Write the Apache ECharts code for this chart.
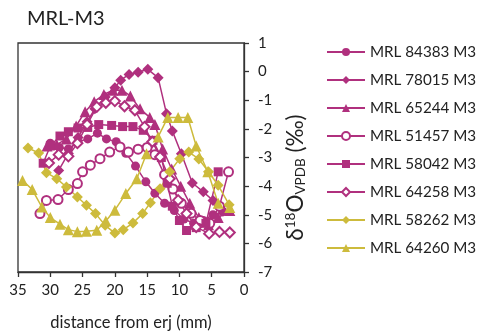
<!DOCTYPE html>
<html><head><meta charset="utf-8">
<script src="https://cdn.jsdelivr.net/npm/echarts@6/dist/echarts.min.js"></script>
<style>html,body{margin:0;padding:0;background:#fff}#c{width:478px;height:331px}</style>
</head><body><div id="c"></div>
<script>
const seriesNames = ['MRL 84383 M3','MRL 78015 M3','MRL 65244 M3','MRL 51457 M3','MRL 58042 M3','MRL 64258 M3','MRL 58262 M3','MRL 64260 M3'];
const s84383 = [[30.0,-2.5],[28.6,-2.65],[27.2,-2.7],[25.7,-2.45],[24.2,-2.35],[22.7,-2.15],[21.3,-2.35],[19.8,-2.45],[18.3,-2.85],[16.8,-3.3],[15.2,-3.85],[13.8,-4.25],[12.3,-4.6],[10.8,-4.85],[9.3,-5.15],[7.8,-5.3],[6.3,-5.2],[4.8,-5.0],[3.3,-4.9]];
const s78015 = [[28.7,-3.45],[27.2,-2.86],[25.7,-2.3],[24.3,-1.75],[23.1,-1.3],[21.5,-0.89],[20.0,-0.56],[19.1,-0.3],[17.8,-0.1],[16.4,-0.02],[14.9,0.08],[13.3,-0.21],[12.0,-1.47],[11.1,-2.07],[9.7,-2.87],[8.0,-3.89],[6.3,-4.2],[4.8,-4.5],[3.5,-4.8]];
const s65244 = [[30.5,-2.6],[29.0,-2.55],[27.5,-2.35],[26.0,-1.9],[24.6,-1.4],[23.2,-1.05],[21.7,-0.8],[20.3,-0.65],[18.9,-0.65],[17.6,-0.85],[16.1,-1.3],[14.6,-1.6],[13.8,-1.85],[12.6,-2.7],[11.2,-3.4],[9.8,-4.0],[8.4,-4.6],[7.0,-5.1],[5.5,-5.35],[4.0,-5.1],[2.2,-4.85]];
const s51457 = [[31.6,-4.96],[30.6,-4.5],[28.8,-4.47],[27.2,-4.12],[25.8,-3.91],[25.0,-3.5],[23.8,-3.27],[22.3,-3.04],[20.8,-2.81],[19.2,-2.63],[17.9,-2.81],[16.4,-2.71],[15.0,-2.65],[13.8,-2.9],[12.3,-3.6],[11.0,-4.1],[9.7,-4.6],[8.2,-4.95],[6.8,-5.2],[5.3,-5.3],[3.8,-4.7],[2.4,-3.5]];
const s58042 = [[31.1,-3.2],[30.0,-2.6],[28.5,-2.25],[27.2,-2.1],[25.7,-1.97],[24.2,-1.95],[22.5,-1.85],[20.5,-1.88],[18.8,-1.92],[17.2,-1.92],[15.6,-2.05],[14.1,-2.4],[12.8,-3.0],[11.9,-3.9],[11.1,-4.7],[10.0,-5.2],[8.9,-5.55],[7.4,-5.45],[5.9,-5.3],[4.0,-3.5]];
const s64258 = [[30.2,-3.19],[28.7,-2.9],[27.2,-2.96],[25.8,-2.5],[24.3,-1.85],[22.8,-1.23],[21.4,-1.09],[20.0,-1.03],[18.5,-1.21],[16.9,-1.35],[15.4,-1.93],[14.2,-2.45],[13.0,-2.98],[11.5,-3.74],[10.2,-4.49],[8.9,-4.96],[7.4,-5.43],[5.4,-5.66],[3.8,-5.6],[2.2,-5.62]];
const s58262 = [[33.45,-2.67],[31.8,-2.84],[30.6,-3.53],[29.0,-3.74],[27.5,-4.03],[25.8,-4.38],[24.4,-4.67],[23.0,-4.96],[21.5,-5.37],[20.0,-5.64],[18.7,-5.52],[17.2,-5.29],[15.7,-4.96],[14.5,-4.58],[13.0,-4.09],[11.5,-3.5],[9.95,-3.04],[8.56,-2.81],[7.0,-3.05],[5.5,-3.5],[4.0,-3.97],[2.3,-4.65]];
const s64260 = [[34.3,-3.8],[32.8,-4.12],[31.3,-4.73],[30.0,-5.1],[28.5,-5.33],[27.2,-5.52],[25.8,-5.59],[24.4,-5.58],[22.8,-5.54],[21.4,-5.22],[20.0,-4.84],[18.3,-4.26],[16.6,-3.74],[15.1,-2.87],[13.3,-2.28],[11.8,-1.6],[10.2,-1.6],[8.7,-1.6],[7.4,-2.6],[5.6,-3.5],[4.0,-4.6],[2.2,-4.75]];
const allData = [s84383,s78015,s65244,s51457,s58042,s64258,s58262,s64260];
const symbols = ['circle','diamond','triangle','emptyCircle','rect','emptyDiamond','diamond','triangle'];
const symbolSizes = [9,11,11,9,9,10,11,11];

const MAG = '#B0307E', YEL = '#CDBB3C';
const colors = [MAG,MAG,MAG,MAG,MAG,MAG,YEL,YEL];
const FONT = 'Lato';

const chart = echarts.init(document.getElementById('c'), null, {renderer:'canvas'});
chart.setOption({
  animation:false,
  textStyle:{fontFamily:FONT},
  title:{text:'MRL-M3', left:22, top:4, textStyle:{fontFamily:FONT, fontSize:20, fontWeight:'normal', color:'#222'}},
  grid:{left:18, right:234, top:43, bottom:59, show:true, borderColor:'#333', borderWidth:1.3, backgroundColor:'transparent', outerBoundsMode:'none', containLabel:false},
  legend:{orient:'vertical', left:321, top:38, itemWidth:38, itemHeight:10, itemGap:10,
    textStyle:{fontFamily:FONT, fontSize:15.2, color:'#222', lineHeight:18},
    data:seriesNames},
  xAxis:{type:'value', inverse:true, min:0, max:35, interval:5,
    name:'distance from erj (mm)', nameLocation:'middle', nameGap:42,
    nameTextStyle:{fontFamily:FONT, fontSize:16.5, color:'#222'},
    axisLine:{show:true, onZero:false, lineStyle:{color:'#333', width:1.3}},
    axisTick:{show:true, inside:false, length:5, lineStyle:{color:'#333', width:1.3}},
    axisLabel:{fontFamily:FONT, fontSize:15, color:'#222', margin:11},
    splitLine:{show:false}},
  yAxis:{type:'value', position:'right', min:-7, max:1, interval:1,
    name:'{a|δ}{sup|18}{a|O}{sub|VPDB}{a| (‰)}', nameLocation:'middle', nameGap:40, nameRotate:90,
    nameTextStyle:{padding:[0,40,0,0], rich:{
      a:{fontFamily:FONT, fontSize:22.5, color:'#222', verticalAlign:'middle'},
      sup:{fontFamily:FONT, fontSize:13.5, color:'#222', verticalAlign:'top', padding:[0,0,8,0]},
      sub:{fontFamily:FONT, fontSize:13.5, color:'#222', verticalAlign:'bottom', padding:[10,0,0,0]}
    }},
    axisLine:{show:true, onZero:false, lineStyle:{color:'#333', width:1.3}},
    axisTick:{show:true, inside:false, length:5, lineStyle:{color:'#333', width:1.3}},
    axisLabel:{fontFamily:FONT, fontSize:15, color:'#222', margin:14},
    splitLine:{show:false}},
  series: allData.map((d,i)=>({
    name:seriesNames[i], type:'line', data:d,
    symbol:symbols[i], symbolSize:symbolSizes[i],
    itemStyle:{color:colors[i], borderWidth: symbols[i].startsWith('empty')?1.2:0},
    lineStyle:{color:colors[i], width:1.5}
  }))
});
</script></body></html>
